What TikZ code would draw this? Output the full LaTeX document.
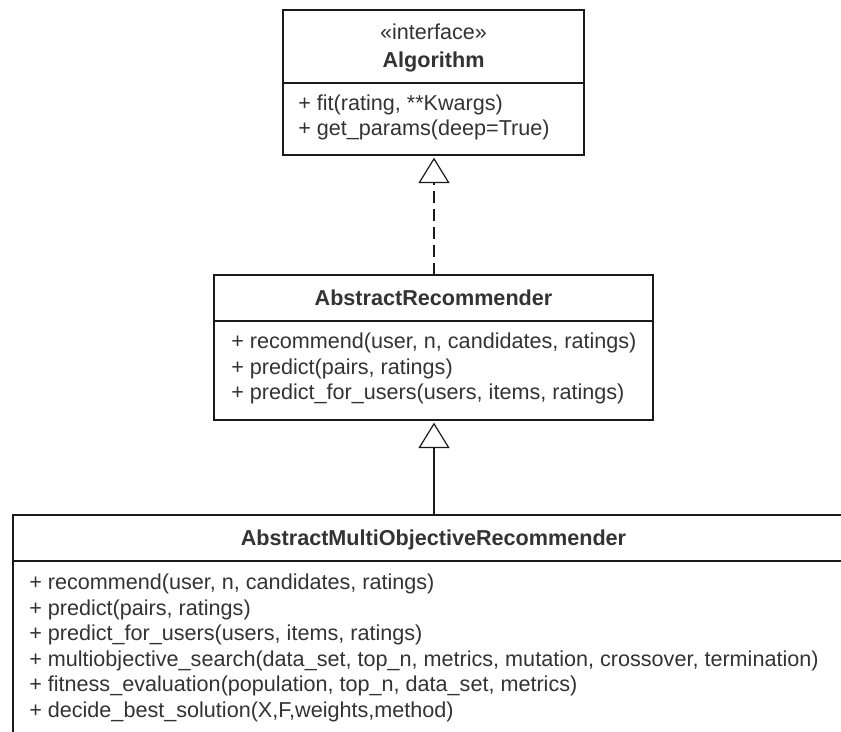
\documentclass[tikz,border=0pt]{standalone}
\usepackage{fontspec}
\setmainfont{Liberation Sans}
\usetikzlibrary{arrows.meta}

\definecolor{ink}{HTML}{333333}
\definecolor{edge}{HTML}{1A1A1A}

\tikzset{
  classbox/.style={draw=edge, line width=1.5pt, rectangle, inner sep=0pt,
                   outer sep=0pt, anchor=north west, fill=white},
  divider/.style={draw=edge, line width=1.5pt},
  txt/.style={inner sep=0pt, text=ink, font=\fontsize{16.2}{19}\selectfont},
  member/.style={txt, anchor=base west},
  title/.style={txt, anchor=base, font=\fontsize{16.2}{19}\selectfont\bfseries},
  stereo/.style={txt, anchor=base},
  realizes/.style={draw=edge, line width=1.1pt, dash pattern=on 9pt off 4.5pt,
                   -{Triangle[open, width=23.25pt, length=19pt, line width=0.9pt]}},
  inherits/.style={draw=edge, line width=1.1pt,
                   -{Triangle[open, width=23.25pt, length=19pt, line width=0.9pt]}},
}

\begin{document}
\begin{tikzpicture}[x=0.75pt, y=-0.75pt]
  \useasboundingbox (0,0) rectangle (841,731);
  \clip (0,0) rectangle (841,731);

  % ---- interface Algorithm ----
  \node[classbox, minimum width=225.75pt, minimum height=108.75pt] (alg) at (283,10) {};
  \coordinate (algdiv) at (0,83);
  \draw[divider] (alg.west |- algdiv) -- (alg.east |- algdiv);
  \node[stereo] (algst) at (433.5,40) {«interface»};
  \node[title]  (algname) at (433.5,67.5) {Algorithm};
  \node[member] (algm1) at (298,110.5) {+ fit(rating, **Kwargs)};
  \node[member] (algm2) at (298,136) {+ get\_params(deep=True)};

  % ---- AbstractRecommender ----
  \node[classbox, minimum width=329.25pt, minimum height=108.75pt] (rec) at (214,275) {};
  \coordinate (recdiv) at (0,321);
  \draw[divider] (rec.west |- recdiv) -- (rec.east |- recdiv);
  \node[title]  (recname) at (433.5,305.5) {AbstractRecommender};
  \node[member] (recm1) at (231,348.5) {+ recommend(user, n, candidates, ratings)};
  \node[member] (recm2) at (231,374) {+ predict(pairs, ratings)};
  \node[member] (recm3) at (231,399.5) {+ predict\_for\_users(users, items, ratings)};

  % ---- AbstractMultiObjectiveRecommender ----
  \node[classbox, minimum width=630pt, minimum height=180pt] (mor) at (13,515) {};
  \coordinate (mordiv) at (0,561);
  \draw[divider] (mor.west |- mordiv) -- (mor.east |- mordiv);
  \node[title]  (morname) at (433.5,545.5) {AbstractMultiObjectiveRecommender};
  \node[member] (morm1) at (29,589.5) {+ recommend(user, n, candidates, ratings)};
  \node[member] (morm2) at (29,615) {+ predict(pairs, ratings)};
  \node[member] (morm3) at (29,640.5) {+ predict\_for\_users(users, items, ratings)};
  \node[member] (morm4) at (29,666) {+ multiobjective\_search(data\_set, top\_n, metrics, mutation, crossover, termination)};
  \node[member] (morm5) at (29,691.5) {+ fitness\_evaluation(population, top\_n, data\_set, metrics)};
  \node[member] (morm6) at (29,717) {+ decide\_best\_solution(X,F,weights,method)};

  % ---- relations ----
  \coordinate (axis) at (434,0);
  \draw[realizes] (rec.north -| axis) -- ([yshift=-2pt]alg.south -| axis);
  \draw[inherits] (mor.north -| axis) -- ([yshift=-2pt]rec.south -| axis);
\end{tikzpicture}
\end{document}
